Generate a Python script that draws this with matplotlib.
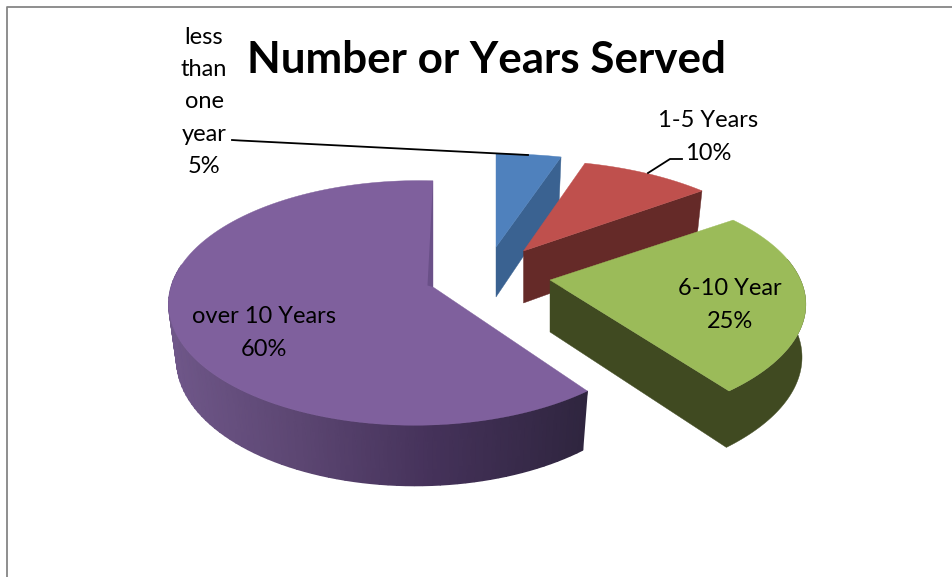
import matplotlib
matplotlib.use('Agg')
import matplotlib.pyplot as plt
import numpy as np
from matplotlib.colors import LinearSegmentedColormap

plt.rcParams['font.family'] = ['Lato', 'DejaVu Sans']

categories = ['less\nthan\none\nyear', '1-5 Years', '6-10 Year', 'over 10 Years']
shares = [5, 10, 25, 60]
title = 'Number or Years Served'

top_colors = ['#4f81bd', '#bf504d', '#9bbb59', '#7f609d']
side_colors = ['#3a6291', '#652a28', '#404a21', None]

# apex x, apex y, R, S, k, m for the perspective of each exploded slice
slice_view = [
    (496, 247, 258, 116, 0.247, -0.03),
    (523.5, 251, 250, 116, 0.283, -0.041),
    (550, 280, 262, 118, 0.206, 0.0455),
    (433, 287, 245, 120, 0.13, 0.065),
]
depths = [50, 52, 52, 55]
narrowing = [0.97, 0.97, 0.985, 0.97]

label_pos = [(204, 102), (708, 137), (730, 305), (264, 333)]

purple_wall = LinearSegmentedColormap.from_list(
    'wall', [(0.0, '#6f5789'), (0.31, '#5c4672'), (0.63, '#45325a'), (1.0, '#2f253f')])


def rim(theta, view):
    ax_, ay, R, S, k, m = view
    u, v = np.sin(theta), np.cos(theta)
    den = 1 + k * v + m * u
    return ax_ + R * u / den, ay - S * v / den


def lower(x, y, view, depth, narrow):
    # bottom edge of the pie sits a little narrower and further down
    ax_, ay = view[0], view[1]
    return ax_ + narrow * (x - ax_), ay + depth + 1.04 * (y - ay)


fig = plt.figure(figsize=(9.52, 5.77), dpi=100)
ax = fig.add_axes([0, 0, 1, 1])
ax.set_xlim(0, 952)
ax.set_ylim(577, 0)
ax.axis('off')

# chart border, only the top and left edges are in view
ax.plot([6.5, 6.5, 952], [577, 6.5, 6.5], color='#868686', lw=1.3, solid_capstyle='butt')

ends = np.cumsum(shares) * 3.6
starts = ends - np.array(shares) * 3.6

for i in range(len(shares)):
    view = slice_view[i]
    depth = depths[i]
    thetas = np.radians(np.linspace(starts[i], ends[i], 120))
    xs, ys = rim(thetas, view)
    xb, yb = lower(xs, ys, view, depth, narrowing[i])
    ax_, ay = view[0], view[1]

    # outer wall, only the part turned towards the viewer
    front = np.cos(thetas) < 0.2
    if side_colors[i] is None:
        wx, wy, bx, by = xs[front], ys[front], xb[front], yb[front]
        shade = (wx - 167) / (589 - 167)
        ax.pcolormesh(np.array([wx, bx]), np.array([wy, by]), np.array([shade, shade]),
                      cmap=purple_wall, vmin=0, vmax=1, shading='gouraud', zorder=2 + i)
    else:
        # wall and cut face at the end of the slice go in as one shape
        front[-1] = True
        apex_bx, apex_by = lower(ax_, ay, view, depth, narrowing[i])
        ax.fill(np.r_[xs[front], ax_, apex_bx, xb[front][::-1]],
                np.r_[ys[front], ay, apex_by, yb[front][::-1]],
                color=side_colors[i], lw=0.3, zorder=2 + i)

    # top surface
    ax.fill(np.r_[ax_, xs], np.r_[ay, ys], color=top_colors[i], lw=0.3, zorder=2 + i)

    # thin sliver of the cut face showing beside the big slice
    if side_colors[i] is None:
        ax.fill([xs[-1], ax_ - 5.5, ax_], [ys[-1], ay - 1.5, ay], color='#6a5088', lw=0, zorder=2 + i)

# leader lines
ax.plot([232, 240, 528], [140, 140.5, 155], color='black', lw=1.3, zorder=10)
ax.plot([648, 670, 682], [173, 159, 159], color='black', lw=1.3, zorder=10)

for name, share, (x, y) in zip(categories, shares, label_pos):
    ax.text(x, y, f'{name}\n{share}%', ha='center', va='center', fontsize=17,
            linespacing=1.67, color='black', zorder=11)

ax.text(486, 60, title, ha='center', va='center', fontsize=31.7, fontweight='bold', color='black', zorder=11)

fig.savefig('out.png', dpi=100)
